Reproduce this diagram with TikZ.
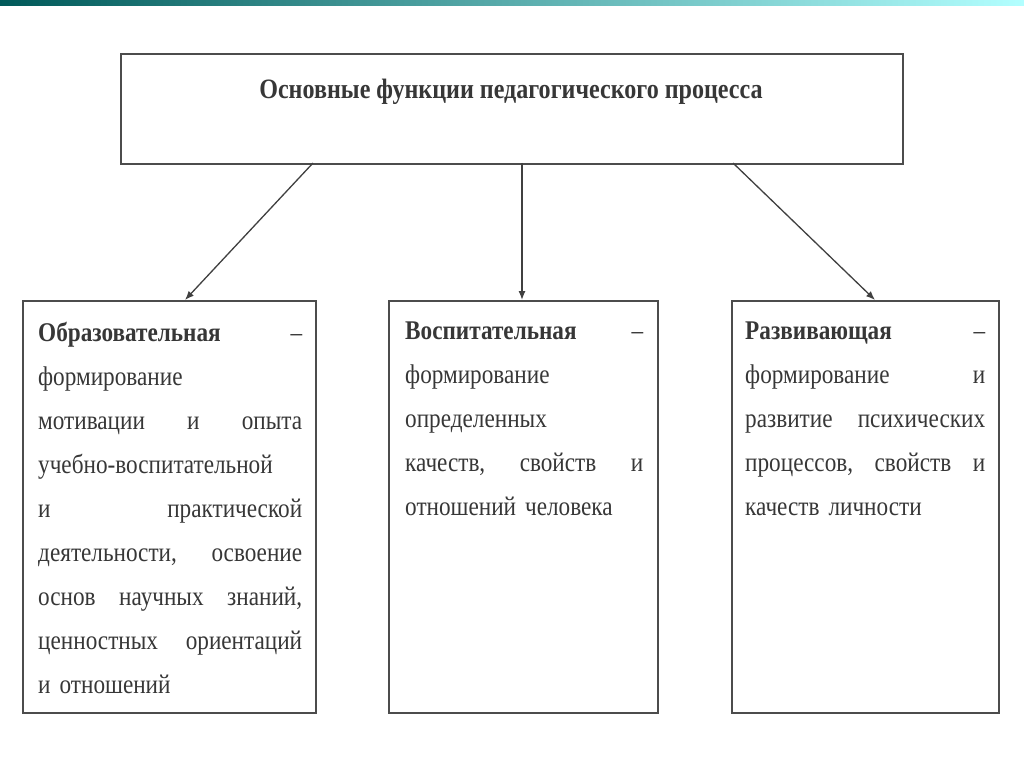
\documentclass[tikz,border=0pt]{standalone}
\usepackage{fontspec}
\usetikzlibrary{arrows.meta}
\setmainfont{Liberation Serif}
\newfontfamily\cond[FakeStretch=0.86]{Liberation Serif}
\definecolor{txt}{RGB}{55,55,55}
\begin{document}
\begin{tikzpicture}[x=1pt,y=-1pt,
  box/.style={draw=black!70,line width=1.6pt,fill=white},
  arr/.style={draw=black!75,line width=1.3pt,-{Latex[length=9pt,width=7pt]}},
  body/.style={anchor=north west,inner sep=0pt,text=txt,font=\cond\fontsize{27}{44}\selectfont,align=left}]
\useasboundingbox (0,0) rectangle (1024,767);
\fill[white] (0,0) rectangle (1024,767);
\shade[left color=teal!70!black,right color=cyan!30!white] (0,0) rectangle (1024,6);
\node[box,minimum width=782pt,minimum height=110pt,anchor=north west,inner sep=0pt] (top) at (120,53) {};
\node[text=txt,font=\cond\bfseries\fontsize{28}{30}\selectfont] (title) at (511,92) {Основные функции педагогического процесса};
\node[box,minimum width=293pt,minimum height=412pt,anchor=north west,inner sep=0pt] (l) at (22,300) {};
\node[box,minimum width=269pt,minimum height=412pt,anchor=north west,inner sep=0pt] (m) at (388,300) {};
\node[box,minimum width=267pt,minimum height=412pt,anchor=north west,inner sep=0pt] (r) at (731,300) {};
\coordinate (t1) at (313,163); \coordinate (t2) at (522,163); \coordinate (t3) at (733,163);
\coordinate (e1) at (185,300); \coordinate (e2) at (522,300); \coordinate (e3) at (875,300);
\draw[arr] (t1) -- (e1);
\draw[arr] (t2) -- (e2);
\draw[arr] (t3) -- (e3);
\node[body,text width=264pt] (lt) at (38,322) {%
\textbf{Образовательная}\hfill –\\
формирование\\
мотивации\hfill и\hfill опыта\\
учебно-воспитательной\\
и\hfill практической\\
деятельности,\hfill освоение\\
основ\hfill научных\hfill знаний,\\
ценностных\hfill ориентаций\\
и отношений};
\node[body,text width=238pt] (mt) at (405,322) {%
\textbf{Воспитательная}\hfill –\\
формирование\\
определенных\\
качеств,\hfill свойств\hfill и\\
отношений человека};
\node[body,text width=240pt] (rt) at (745,322) {%
\textbf{Развивающая}\hfill –\\
формирование\hfill и\\
развитие\hfill психических\\
процессов,\hfill свойств\hfill и\\
качеств личности};
\end{tikzpicture}
\end{document}
